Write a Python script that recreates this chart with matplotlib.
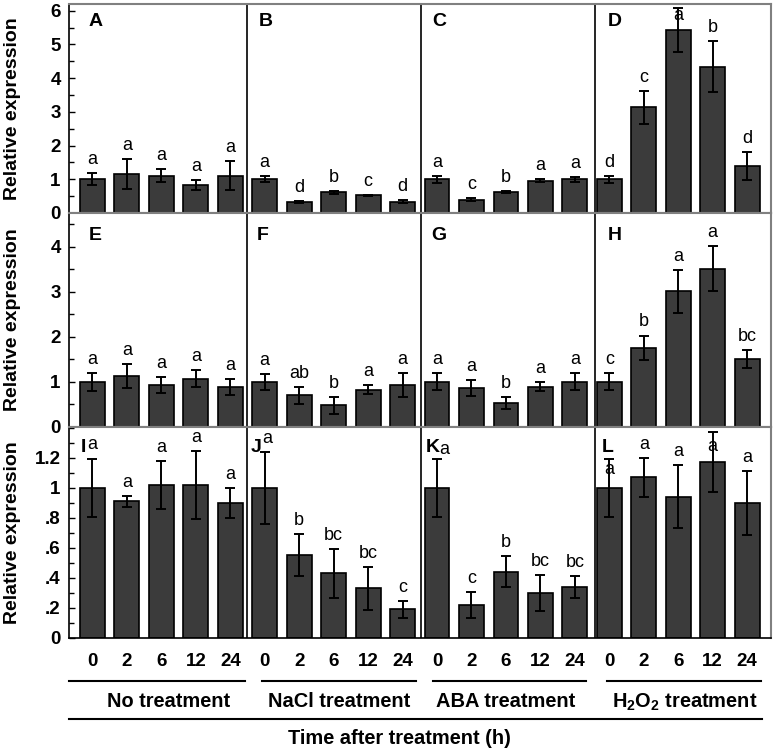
import numpy as np
import matplotlib
matplotlib.use('Agg')
import matplotlib.pyplot as plt
from matplotlib.transforms import blended_transform_factory
from matplotlib.lines import Line2D

plt.rcParams['font.family'] = ['Liberation Sans', 'DejaVu Sans']
plt.rcParams['mathtext.fontset'] = 'custom'
plt.rcParams['mathtext.rm'] = 'Liberation Sans'
plt.rcParams['mathtext.bf'] = 'Liberation Sans:bold'

# ---------------- data ----------------
times = ['0', '2', '6', '12', '24']
treatments = ['No treatment', 'NaCl treatment', 'ABA treatment',
              r'H$_\mathbf{2}$O$_\mathbf{2}$ treatment']
xlabel_text = 'Time after treatment (h)'
ylabel_text = 'Relative expression'

panel_labels_row1 = ['A', 'B', 'C', 'D']
panel_labels_row2 = ['E', 'F', 'G', 'H']
panel_labels_row3 = ['I', 'J', 'K', 'L']

row1_vals = [1.00, 1.15, 1.11, 0.83, 1.11,
             1.00, 0.32, 0.61, 0.52, 0.34,
             1.00, 0.39, 0.62, 0.96, 1.00,
             1.00, 3.14, 5.42, 4.34, 1.39]
row1_err = [0.18, 0.45, 0.20, 0.16, 0.42,
            0.09, 0.03, 0.04, 0.02, 0.04,
            0.10, 0.04, 0.03, 0.05, 0.07,
            0.10, 0.49, 0.65, 0.75, 0.42]
row1_letters = ['a', 'a', 'a', 'a', 'a',
                'a', 'd', 'b', 'c', 'd',
                'a', 'c', 'b', 'a', 'a',
                'd', 'c', 'a', 'b', 'd']

row2_vals = [1.00, 1.13, 0.93, 1.07, 0.89,
             1.00, 0.70, 0.48, 0.83, 0.93,
             1.00, 0.86, 0.53, 0.89, 1.00,
             1.00, 1.76, 3.01, 3.51, 1.51]
row2_err = [0.20, 0.27, 0.17, 0.19, 0.17,
            0.18, 0.19, 0.19, 0.10, 0.26,
            0.19, 0.18, 0.14, 0.10, 0.19,
            0.19, 0.27, 0.47, 0.50, 0.19]
row2_letters = ['a', 'a', 'a', 'a', 'a',
                'a', 'ab', 'b', 'a', 'a',
                'a', 'a', 'b', 'a', 'a',
                'c', 'b', 'a', 'a', 'bc']

row3_vals = [1.00, 0.91, 1.02, 1.02, 0.90,
             1.00, 0.55, 0.43, 0.33, 0.19,
             1.00, 0.22, 0.44, 0.30, 0.34,
             1.00, 1.07, 0.94, 1.17, 0.90]
row3_err = [0.195, 0.035, 0.16, 0.225, 0.10,
            0.24, 0.14, 0.165, 0.143, 0.058,
            0.195, 0.085, 0.103, 0.12, 0.075,
            0.195, 0.13, 0.21, 0.20, 0.213]
row3_letters = ['a', 'a', 'a', 'a', 'a',
                'a', 'b', 'bc', 'bc', 'c',
                'a', 'c', 'b', 'bc', 'bc',
                'a', 'a', 'a', 'a', 'a']

row1_yticks = [0, 1, 2, 3, 4, 5, 6]
row1_yticklabels = ['0', '1', '2', '3', '4', '5', '6']
row2_yticks = [0, 1, 2, 3, 4]
row2_yticklabels = ['0', '1', '2', '3', '4']
row3_yticks = [0, 0.2, 0.4, 0.6, 0.8, 1.0, 1.2]
row3_yticklabels = ['0', '.2', '.4', '.6', '.8', '1', '1.2']

# ---------------- layout ----------------
fig = plt.figure(figsize=(7.74, 7.52), dpi=100)
L, R = 0.0891, 0.9961
row_bounds = [(0.7168, 0.9947), (0.4322, 0.7168), (0.1516, 0.4322)]
ylims = [6.2, 4.75, 1.405]
minor_steps = [0.5, 0.5, 0.1]
yticks_all = [row1_yticks, row2_yticks, row3_yticks]
yticklabels_all = [row1_yticklabels, row2_yticklabels, row3_yticklabels]
vals_all = [row1_vals, row2_vals, row3_vals]
errs_all = [row1_err, row2_err, row3_err]
letters_all = [row1_letters, row2_letters, row3_letters]
plabels_all = [panel_labels_row1, panel_labels_row2, panel_labels_row3]
plabel_x = [[-0.10, 4.84, 9.86, 14.94],
            [-0.10, 4.78, 9.83, 14.94],
            [-0.34, 4.60, 9.66, 14.77]]
plabel_y = [0.914, 0.897, 0.905]
dividers = [4.48, 9.54, 14.59]
# letters placed manually (center, data units) where the author moved them
letter_override = {(0, 17): 5.87, (2, 15): 1.12, (2, 18): 1.277}
# extra offsets (points) for letters nudged beside panel labels
letter_shift = {(2, 5): (1.5, 0), (2, 10): (5.5, -3)}

x = np.arange(20)
axes = []
for r in range(3):
    b, t = row_bounds[r]
    ax = fig.add_axes([L, b, R - L, t - b])
    axes.append(ax)
    vals = vals_all[r]
    errs = errs_all[r]
    ax.bar(x, vals, width=0.72, color='#3b3b3b', edgecolor='black',
           linewidth=1.2, zorder=2)
    ax.errorbar(x, vals, yerr=errs, fmt='none', ecolor='black',
                elinewidth=1.4, capsize=3.6, capthick=1.4, zorder=3)
    for i, let in enumerate(letters_all[r]):
        if (r, i) in letter_override:
            ax.text(x[i], letter_override[(r, i)], let, ha='center',
                    va='center', fontsize=13, zorder=4)
        else:
            dx, dy = letter_shift.get((r, i), (0, 0))
            ax.annotate(let, xy=(x[i], vals[i] + errs[i]),
                        xytext=(dx, 6.5 + dy),
                        textcoords='offset points', ha='center',
                        va='baseline', fontsize=13, zorder=4)
    ax.set_xlim(-0.68, 19.69)
    ax.set_ylim(0, ylims[r])
    for d in dividers:
        ax.axvline(d, color='black', lw=1.2, zorder=1)
    ax.set_yticks(yticks_all[r], labels=yticklabels_all[r],
                  fontweight='bold', fontsize=13.5)
    ax.set_yticks(np.arange(0, ylims[r], minor_steps[r]), minor=True)
    ax.tick_params(axis='y', which='major', direction='in', length=4.5,
                   width=1, pad=6)
    ax.tick_params(axis='y', which='minor', direction='in', length=3.5,
                   width=1)
    ax.set_ylabel(ylabel_text, fontsize=14, fontweight='bold')
    ax.yaxis.set_label_coords(-0.068, 0.5)
    trans = blended_transform_factory(ax.transData, ax.transAxes)
    for lx, lab in zip(plabel_x[r], plabels_all[r]):
        ax.text(lx, plabel_y[r], lab, transform=trans, fontweight='bold',
                fontsize=14, ha='left', va='center')
    ax.spines['left'].set_color('black')
    ax.spines['left'].set_linewidth(1.2)
    for s in ['top', 'right', 'bottom']:
        ax.spines[s].set_color('#808080')
        ax.spines[s].set_linewidth(1.5)
    if r < 2:
        ax.set_xticks([])
    else:
        ax.spines['bottom'].set_color('black')
        ax.spines['bottom'].set_linewidth(1.2)
        ax.set_xticks(x, labels=times * 4, fontweight='bold', fontsize=13.5)
        ax.tick_params(axis='x', length=0, pad=11)

# bottom group annotation
ax3 = axes[2]
btrans = blended_transform_factory(ax3.transData, fig.transFigure)
group_spans = [(-0.68, 4.43), (4.92, 9.39), (9.88, 14.32), (14.93, 19.40)]
group_label_x = [2.2, 7.15, 12.0, 17.2]
for (x0, x1), gx, name in zip(group_spans, group_label_x, treatments):
    fig.add_artist(Line2D([x0, x1], [0.0944, 0.0944], transform=btrans,
                          color='black', lw=1.5))
    fig.text(gx, 0.0665, name, transform=btrans, ha='center', va='center',
             fontsize=14.4, fontweight='bold')
fig.add_artist(Line2D([-0.68, 19.43], [0.0439, 0.0439], transform=btrans,
                      color='black', lw=1.5))
fig.text(8.9, 0.0186, xlabel_text, transform=btrans, ha='center',
         va='center', fontsize=14.4, fontweight='bold')

fig.savefig('out.png', dpi=100)
